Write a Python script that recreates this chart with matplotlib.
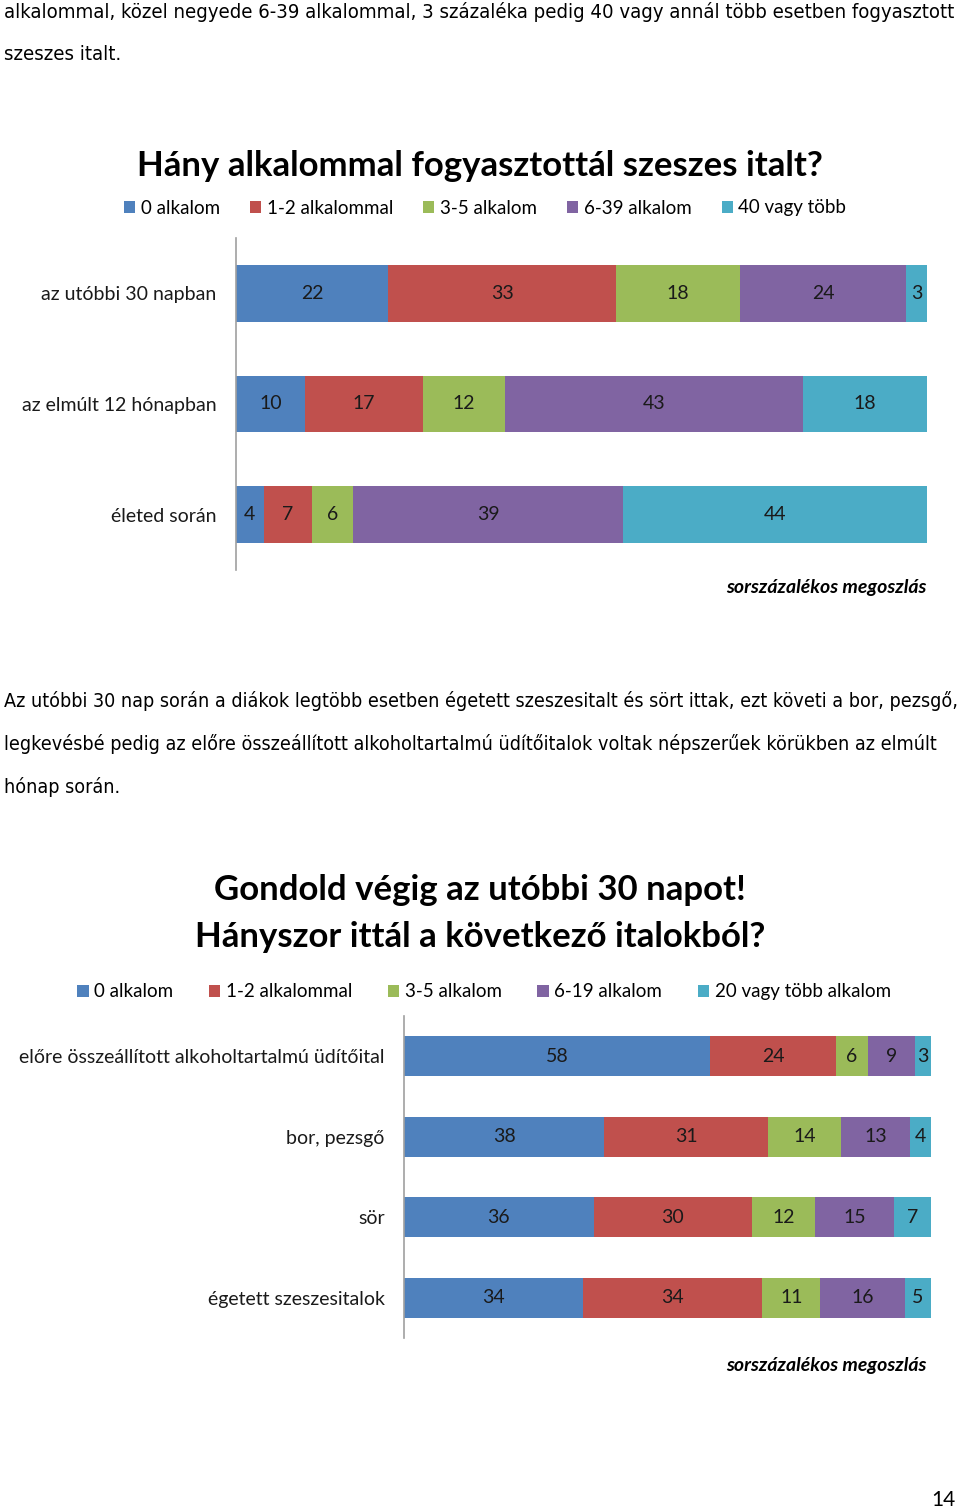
import numpy as np
import matplotlib.pyplot as plt
from matplotlib import font_manager

W, H = 960, 1509

# chart 1 data
cats1 = ['az utóbbi 30 napban', 'az elmúlt 12 hónapban', 'életed során']
series1 = ['0 alkalom', '1-2 alkalommal', '3-5 alkalom', '6-39 alkalom', '40 vagy több']
vals1 = [
    [22, 10, 4],
    [33, 17, 7],
    [18, 12, 6],
    [24, 43, 39],
    [3, 18, 44],
]

# chart 2 data
cats2 = ['előre összeállított alkoholtartalmú üdítőital', 'bor, pezsgő', 'sör', 'égetett szeszesitalok']
series2 = ['0 alkalom', '1-2 alkalommal', '3-5 alkalom', '6-19 alkalom', '20 vagy több alkalom']
vals2 = [
    [58, 38, 36, 34],
    [24, 31, 30, 34],
    [6, 14, 12, 11],
    [9, 13, 15, 16],
    [3, 4, 7, 5],
]

body1 = ['alkalommal, közel negyede 6-39 alkalommal, 3 százaléka pedig 40 vagy annál több esetben fogyasztott',
         'szeszes italt.']
body2 = ['Az utóbbi 30 nap során a diákok legtöbb esetben égetett szeszesitalt és sört ittak, ezt követi a bor, pezsgő,',
         'legkevésbé pedig az előre összeállított alkoholtartalmú üdítőitalok voltak népszerűek körükben az elmúlt',
         'hónap során.']

colors = ['#4F81BD', '#C0504D', '#9BBB59', '#8064A2', '#4BACC6']
CH = ['Lato', 'DejaVu Sans']

# look for a narrow face for the body text (Arial Narrow look)
narrow = None
for f in font_manager.fontManager.ttflist:
    n = f.name.lower()
    if ('narrow' in n or 'condensed' in n or f.stretch in ('condensed', 'semi-condensed')) \
            and f.weight in ('normal', 400, 'regular') and f.style == 'normal':
        narrow = f
        break
if narrow is not None:
    BODY = dict(family=[narrow.name, 'DejaVu Sans'], fontstretch=narrow.stretch)
else:
    BODY = dict(family=['Liberation Sans', 'DejaVu Sans'])

plt.rcParams['font.family'] = CH

fig = plt.figure(figsize=(W / 100, H / 100), dpi=100)
renderer = fig.canvas.get_renderer()


def fy(y):
    return 1 - y / H


def ftext(x, y, s, **kw):
    return fig.text(x / W, fy(y), s, **kw)


def body_block(lines, y0, step, full_width=950, size=17):
    # shrink the font so every full (justified) line fits the page width
    texts = [ftext(4, y0 + i * step, s, fontsize=size, va='center', **BODY)
             for i, s in enumerate(lines)]
    widest = max(t.get_window_extent(renderer).width for t in texts[:-1])
    if widest > full_width:
        for t in texts:
            t.set_fontsize(size * full_width / widest)


def stacked(ax, cats, series, vals, height, lab_size):
    y = np.arange(len(cats))
    left = np.zeros(len(cats))
    handles = []
    for name, v, c in zip(series, vals, colors):
        bars = ax.barh(y, v, left=left, height=height, color=c, label=name)
        ax.bar_label(bars, labels=[str(x) for x in v], label_type='center',
                     fontsize=lab_size, color='#1a1a1a')
        left += np.array(v)
        handles.append(bars)
    ax.set_xlim(0, 100)
    ax.set_ylim(len(cats) - 0.5, -0.5)
    ax.set_yticks(y)
    ax.set_yticklabels(cats, fontsize=lab_size, color='#1a1a1a')
    ax.tick_params(length=0, pad=14)
    ax.set_xticks([])
    for s in ['top', 'right', 'bottom']:
        ax.spines[s].set_visible(False)
    ax.spines['left'].set_color('#a0a0a0')
    ax.spines['left'].set_linewidth(1.2)
    return handles


# body text
body_block(body1, 12, 42)

# chart 1
ftext(480, 166, 'Hány alkalommal fogyasztottál szeszes italt?', fontsize=25, fontweight='bold',
      ha='center', va='center')
ax1 = fig.add_axes([236 / W, fy(570), 691 / W, 332 / H])
h1 = stacked(ax1, cats1, series1, vals1, 0.515, 14)
fig.legend(handles=h1, labels=series1, loc='center', bbox_to_anchor=(485 / W, fy(208)), ncol=5,
           frameon=False, fontsize=13.5, handlelength=0.6, handleheight=0.6, handletextpad=0.3,
           columnspacing=1.6)
ftext(927, 587, 'sorszázalékos megoszlás', fontsize=14, fontweight='bold', fontstyle='italic',
      ha='right', va='center')

# middle text
body_block(body2, 701, 43)

# chart 2
ftext(480, 890, 'Gondold végig az utóbbi 30 napot!', fontsize=25, fontweight='bold', ha='center', va='center')
ftext(480, 937, 'Hányszor ittál a következő italokból?', fontsize=25, fontweight='bold', ha='center', va='center')
ax2 = fig.add_axes([404 / W, fy(1338), 527 / W, 322 / H])
h2 = stacked(ax2, cats2, series2, vals2, 0.5, 14)
fig.legend(handles=h2, labels=series2, loc='center', bbox_to_anchor=(484 / W, fy(992)), ncol=5,
           frameon=False, fontsize=13.5, handlelength=0.6, handleheight=0.6, handletextpad=0.3,
           columnspacing=1.9)
ftext(927, 1365, 'sorszázalékos megoszlás', fontsize=14, fontweight='bold', fontstyle='italic',
      ha='right', va='center')

ftext(956, 1500, '14', fontsize=15, ha='right', va='center')

fig.savefig('out.png', dpi=100)
